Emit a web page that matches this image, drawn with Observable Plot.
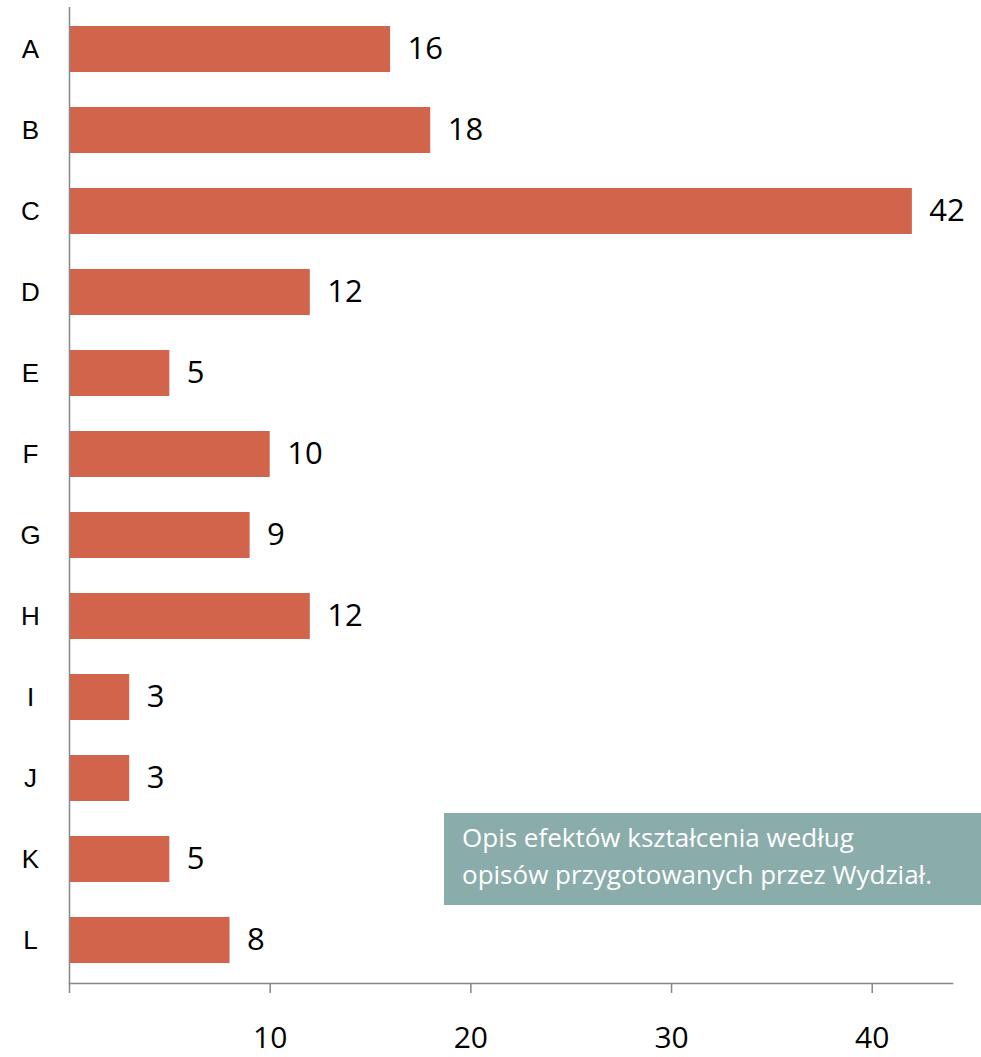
<!DOCTYPE html>
<html>
<head>
<meta charset="utf-8">
<script src="https://cdn.jsdelivr.net/npm/d3@7"></script>
<script src="https://cdn.jsdelivr.net/npm/@observablehq/plot@0.6"></script>
<style>
  html, body { margin: 0; padding: 0; background: #fff; }
  #wrap { position: relative; width: 981px; height: 1057px; overflow: hidden; }
  #note {
    position: absolute; left: 444px; top: 813px; width: 560px; height: 92px;
    background: #8AACAB; color: #fff; box-sizing: border-box;
    font-family: "Open Sans", sans-serif; font-size: 26px; line-height: 37px;
    padding: 6px 0 0 18px; white-space: nowrap;
  }
</style>
</head>
<body>
<div id="wrap"></div>
<script>
const categories = ["A","B","C","D","E","F","G","H","I","J","K","L"];
const values = [16, 18, 42, 12, 5, 10, 9, 12, 3, 3, 5, 8];
const xTicks = [0, 10, 20, 30, 40];
const noteLines = ["Opis efektów kształcenia według", "opisów przygotowanych przez Wydział."];

const data = categories.map((c, i) => ({cat: c, value: values[i]}));
const axisGray = "#878787";

const chart = Plot.plot({
  width: 981,
  height: 1057,
  marginLeft: 69,
  marginRight: 29,
  marginTop: 7,
  marginBottom: 74,
  style: {fontFamily: "Open Sans, sans-serif", background: "#fff", color: "#000"},
  x: {domain: [0, 44], axis: null, label: null},
  y: {domain: categories, paddingInner: 0.43, paddingOuter: 0.215, axis: null, label: null},
  marks: [
    Plot.barX(data, {y: "cat", x: "value", fill: "#D1644B"}),
    Plot.ruleX([0], {stroke: axisGray, strokeWidth: 1.5}),
    Plot.frame({anchor: "bottom", stroke: axisGray, strokeWidth: 1.5}),
    Plot.axisX({ticks: xTicks, tickSize: 10, tickPadding: 33, fontSize: 30, stroke: axisGray, strokeWidth: 1.5,
      tickFormat: d => d === 0 ? "" : String(d), fill: "#000", label: null}),
    Plot.axisY({tickSize: 0, tickPadding: 39, textAnchor: "middle", fontSize: 26,
      fontFamily: "Liberation Sans, Arial, sans-serif", fill: "#000", label: null}),
    Plot.text(data, {y: "cat", x: "value", text: d => String(d.value), dx: 17, textAnchor: "start",
      fontSize: 31, fill: "#000"})
  ]
});
const wrap = document.getElementById("wrap");
wrap.appendChild(chart);
const note = document.createElement("div");
note.id = "note";
note.innerHTML = noteLines.join("<br>");
wrap.appendChild(note);
</script>
</body>
</html>
